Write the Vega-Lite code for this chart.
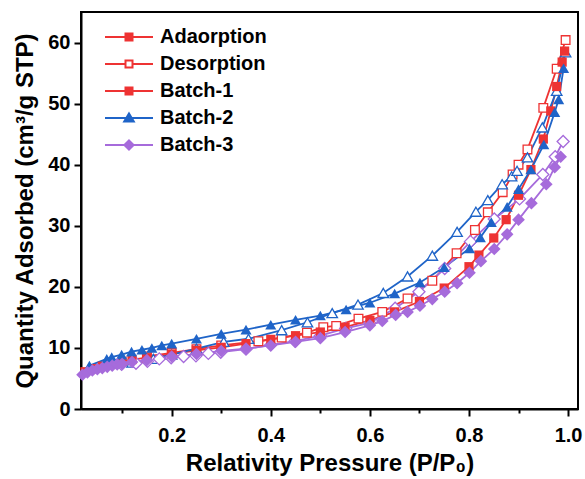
{
  "$schema": "https://vega.github.io/schema/vega-lite/v6.json",
  "width": 497,
  "height": 397,
  "autosize": {"type": "none"},
  "padding": {"left": 81, "top": 12, "right": 7, "bottom": 70},
  "background": "white",
  "data": {"values": [
    {"b":"Batch-1","s":"ads","p":0.025,"q":6.1},{"b":"Batch-1","s":"ads","p":0.04,"q":6.6},{"b":"Batch-1","s":"ads","p":0.06,"q":7.0},{"b":"Batch-1","s":"ads","p":0.08,"q":7.4},{"b":"Batch-1","s":"ads","p":0.1,"q":7.8},{"b":"Batch-1","s":"ads","p":0.12,"q":8.1},{"b":"Batch-1","s":"ads","p":0.15,"q":8.4},{"b":"Batch-1","s":"ads","p":0.2,"q":9.0},{"b":"Batch-1","s":"ads","p":0.25,"q":9.6},{"b":"Batch-1","s":"ads","p":0.3,"q":10.1},{"b":"Batch-1","s":"ads","p":0.35,"q":10.7},{"b":"Batch-1","s":"ads","p":0.4,"q":11.4},{"b":"Batch-1","s":"ads","p":0.45,"q":12.0},{"b":"Batch-1","s":"ads","p":0.5,"q":12.6},{"b":"Batch-1","s":"ads","p":0.55,"q":13.4},{"b":"Batch-1","s":"ads","p":0.6,"q":14.5},{"b":"Batch-1","s":"ads","p":0.65,"q":15.9},{"b":"Batch-1","s":"ads","p":0.7,"q":17.6},{"b":"Batch-1","s":"ads","p":0.75,"q":19.8},{"b":"Batch-1","s":"ads","p":0.8,"q":23.3},{"b":"Batch-1","s":"ads","p":0.82,"q":25.2},{"b":"Batch-1","s":"ads","p":0.85,"q":28.0},{"b":"Batch-1","s":"ads","p":0.875,"q":31.0},{"b":"Batch-1","s":"ads","p":0.9,"q":35.0},{"b":"Batch-1","s":"ads","p":0.925,"q":39.2},{"b":"Batch-1","s":"ads","p":0.95,"q":44.2},{"b":"Batch-1","s":"ads","p":0.965,"q":48.8},{"b":"Batch-1","s":"ads","p":0.977,"q":52.8},{"b":"Batch-1","s":"ads","p":0.988,"q":56.8},{"b":"Batch-1","s":"ads","p":0.993,"q":58.6},
    {"b":"Batch-1","s":"des","p":0.15,"q":8.6},{"b":"Batch-1","s":"des","p":0.2,"q":9.2},{"b":"Batch-1","s":"des","p":0.25,"q":9.8},{"b":"Batch-1","s":"des","p":0.3,"q":10.4},{"b":"Batch-1","s":"des","p":0.375,"q":11.1},{"b":"Batch-1","s":"des","p":0.422,"q":11.7},{"b":"Batch-1","s":"des","p":0.473,"q":12.5},{"b":"Batch-1","s":"des","p":0.506,"q":13.4},{"b":"Batch-1","s":"des","p":0.532,"q":13.6},{"b":"Batch-1","s":"des","p":0.577,"q":14.8},{"b":"Batch-1","s":"des","p":0.625,"q":15.9},{"b":"Batch-1","s":"des","p":0.676,"q":18.1},{"b":"Batch-1","s":"des","p":0.726,"q":21.0},{"b":"Batch-1","s":"des","p":0.775,"q":25.5},{"b":"Batch-1","s":"des","p":0.812,"q":29.3},{"b":"Batch-1","s":"des","p":0.838,"q":32.2},{"b":"Batch-1","s":"des","p":0.868,"q":35.5},{"b":"Batch-1","s":"des","p":0.888,"q":38.4},{"b":"Batch-1","s":"des","p":0.9,"q":40.0},{"b":"Batch-1","s":"des","p":0.918,"q":42.5},{"b":"Batch-1","s":"des","p":0.95,"q":49.3},{"b":"Batch-1","s":"des","p":0.977,"q":55.7},{"b":"Batch-1","s":"des","p":0.995,"q":60.4},
    {"b":"Batch-2","s":"ads","p":0.034,"q":7.1},{"b":"Batch-2","s":"ads","p":0.069,"q":8.2},{"b":"Batch-2","s":"ads","p":0.079,"q":8.5},{"b":"Batch-2","s":"ads","p":0.099,"q":8.9},{"b":"Batch-2","s":"ads","p":0.119,"q":9.4},{"b":"Batch-2","s":"ads","p":0.14,"q":9.7},{"b":"Batch-2","s":"ads","p":0.16,"q":10.0},{"b":"Batch-2","s":"ads","p":0.18,"q":10.4},{"b":"Batch-2","s":"ads","p":0.2,"q":10.7},{"b":"Batch-2","s":"ads","p":0.25,"q":11.5},{"b":"Batch-2","s":"ads","p":0.3,"q":12.3},{"b":"Batch-2","s":"ads","p":0.35,"q":13.0},{"b":"Batch-2","s":"ads","p":0.4,"q":13.8},{"b":"Batch-2","s":"ads","p":0.45,"q":14.6},{"b":"Batch-2","s":"ads","p":0.5,"q":15.3},{"b":"Batch-2","s":"ads","p":0.552,"q":16.3},{"b":"Batch-2","s":"ads","p":0.6,"q":17.4},{"b":"Batch-2","s":"ads","p":0.65,"q":18.9},{"b":"Batch-2","s":"ads","p":0.701,"q":20.7},{"b":"Batch-2","s":"ads","p":0.75,"q":23.2},{"b":"Batch-2","s":"ads","p":0.801,"q":26.3},{"b":"Batch-2","s":"ads","p":0.823,"q":28.1},{"b":"Batch-2","s":"ads","p":0.845,"q":30.6},{"b":"Batch-2","s":"ads","p":0.877,"q":33.1},{"b":"Batch-2","s":"ads","p":0.9,"q":36.0},{"b":"Batch-2","s":"ads","p":0.925,"q":39.2},{"b":"Batch-2","s":"ads","p":0.951,"q":43.3},{"b":"Batch-2","s":"ads","p":0.973,"q":48.6},{"b":"Batch-2","s":"ads","p":0.981,"q":50.7},{"b":"Batch-2","s":"ads","p":0.991,"q":55.8},
    {"b":"Batch-2","s":"des","p":0.12,"q":7.6},{"b":"Batch-2","s":"des","p":0.163,"q":8.2},{"b":"Batch-2","s":"des","p":0.2,"q":8.9},{"b":"Batch-2","s":"des","p":0.25,"q":9.9},{"b":"Batch-2","s":"des","p":0.305,"q":11.0},{"b":"Batch-2","s":"des","p":0.355,"q":11.5},{"b":"Batch-2","s":"des","p":0.422,"q":12.9},{"b":"Batch-2","s":"des","p":0.474,"q":14.2},{"b":"Batch-2","s":"des","p":0.524,"q":15.7},{"b":"Batch-2","s":"des","p":0.576,"q":17.1},{"b":"Batch-2","s":"des","p":0.627,"q":19.0},{"b":"Batch-2","s":"des","p":0.676,"q":21.7},{"b":"Batch-2","s":"des","p":0.726,"q":25.1},{"b":"Batch-2","s":"des","p":0.776,"q":29.0},{"b":"Batch-2","s":"des","p":0.814,"q":32.3},{"b":"Batch-2","s":"des","p":0.838,"q":34.2},{"b":"Batch-2","s":"des","p":0.867,"q":36.8},{"b":"Batch-2","s":"des","p":0.886,"q":38.1},{"b":"Batch-2","s":"des","p":0.897,"q":39.0},{"b":"Batch-2","s":"des","p":0.918,"q":41.2},{"b":"Batch-2","s":"des","p":0.948,"q":46.1},{"b":"Batch-2","s":"des","p":0.977,"q":52.1},{"b":"Batch-2","s":"des","p":0.995,"q":58.4},
    {"b":"Batch-3","s":"ads","p":0.02,"q":5.6},{"b":"Batch-3","s":"ads","p":0.03,"q":6.0},{"b":"Batch-3","s":"ads","p":0.04,"q":6.3},{"b":"Batch-3","s":"ads","p":0.05,"q":6.5},{"b":"Batch-3","s":"ads","p":0.06,"q":6.7},{"b":"Batch-3","s":"ads","p":0.07,"q":6.9},{"b":"Batch-3","s":"ads","p":0.08,"q":7.1},{"b":"Batch-3","s":"ads","p":0.09,"q":7.3},{"b":"Batch-3","s":"ads","p":0.1,"q":7.4},{"b":"Batch-3","s":"ads","p":0.12,"q":7.7},{"b":"Batch-3","s":"ads","p":0.15,"q":8.0},{"b":"Batch-3","s":"ads","p":0.2,"q":8.6},{"b":"Batch-3","s":"ads","p":0.25,"q":9.0},{"b":"Batch-3","s":"ads","p":0.3,"q":9.5},{"b":"Batch-3","s":"ads","p":0.35,"q":9.9},{"b":"Batch-3","s":"ads","p":0.4,"q":10.4},{"b":"Batch-3","s":"ads","p":0.45,"q":11.0},{"b":"Batch-3","s":"ads","p":0.5,"q":11.6},{"b":"Batch-3","s":"ads","p":0.55,"q":12.6},{"b":"Batch-3","s":"ads","p":0.6,"q":13.7},{"b":"Batch-3","s":"ads","p":0.625,"q":14.4},{"b":"Batch-3","s":"ads","p":0.652,"q":15.4},{"b":"Batch-3","s":"ads","p":0.676,"q":15.9},{"b":"Batch-3","s":"ads","p":0.701,"q":16.9},{"b":"Batch-3","s":"ads","p":0.726,"q":18.0},{"b":"Batch-3","s":"ads","p":0.751,"q":19.2},{"b":"Batch-3","s":"ads","p":0.776,"q":20.6},{"b":"Batch-3","s":"ads","p":0.801,"q":22.3},{"b":"Batch-3","s":"ads","p":0.824,"q":24.2},{"b":"Batch-3","s":"ads","p":0.851,"q":26.2},{"b":"Batch-3","s":"ads","p":0.877,"q":28.6},{"b":"Batch-3","s":"ads","p":0.9,"q":31.0},{"b":"Batch-3","s":"ads","p":0.926,"q":33.7},{"b":"Batch-3","s":"ads","p":0.956,"q":36.8},{"b":"Batch-3","s":"ads","p":0.973,"q":39.6},{"b":"Batch-3","s":"ads","p":0.985,"q":41.3},
    {"b":"Batch-3","s":"des","p":0.099,"q":7.3},{"b":"Batch-3","s":"des","p":0.128,"q":7.5},{"b":"Batch-3","s":"des","p":0.151,"q":7.8},{"b":"Batch-3","s":"des","p":0.175,"q":8.2},{"b":"Batch-3","s":"des","p":0.199,"q":8.4},{"b":"Batch-3","s":"des","p":0.224,"q":8.6},{"b":"Batch-3","s":"des","p":0.249,"q":8.7},{"b":"Batch-3","s":"des","p":0.274,"q":9.1},{"b":"Batch-3","s":"des","p":0.299,"q":9.3},{"b":"Batch-3","s":"des","p":0.35,"q":9.8},{"b":"Batch-3","s":"des","p":0.4,"q":10.5},{"b":"Batch-3","s":"des","p":0.449,"q":11.1},{"b":"Batch-3","s":"des","p":0.5,"q":12.0},{"b":"Batch-3","s":"des","p":0.551,"q":13.2},{"b":"Batch-3","s":"des","p":0.6,"q":14.1},{"b":"Batch-3","s":"des","p":0.651,"q":16.5},{"b":"Batch-3","s":"des","p":0.699,"q":19.2},{"b":"Batch-3","s":"des","p":0.751,"q":23.0},{"b":"Batch-3","s":"des","p":0.803,"q":27.4},{"b":"Batch-3","s":"des","p":0.851,"q":31.1},{"b":"Batch-3","s":"des","p":0.902,"q":34.4},{"b":"Batch-3","s":"des","p":0.949,"q":38.4},{"b":"Batch-3","s":"des","p":0.974,"q":41.3},{"b":"Batch-3","s":"des","p":0.99,"q":43.8}
  ]},
  "layer": [
    {
      "mark": {"type": "line", "strokeWidth": 1.8, "clip": true},
      "encoding": {
        "x": {"field": "p", "type": "quantitative",
          "scale": {"domain": [0.017, 1.02], "zero": false, "nice": false},
          "axis": {"title": "Relativity Pressure (P/P₀)", "values": [0.1,0.2,0.3,0.4,0.5,0.6,0.7,0.8,0.9,1.0], "format": ".1f",
            "labelExpr": "round(datum.value*10) % 2 == 0 ? datum.label : ''",
            "tickSize": {"condition": {"test": "round(datum.value*10) % 2 == 0", "value": 7}, "value": 4},
            "labelPadding": 9, "titlePadding": 6, "labelFlush": false}},
        "y": {"field": "q", "type": "quantitative",
          "scale": {"domain": [0, 65], "nice": false},
          "axis": {"title": "Quantity Adsorbed (cm³/g STP)", "values": [0,5,10,15,20,25,30,35,40,45,50,55,60], "format": "d",
            "labelExpr": "datum.value % 10 == 0 ? datum.label : ''",
            "tickSize": {"condition": {"test": "datum.value % 10 == 0", "value": 7}, "value": 4},
            "labelPadding": 4, "titlePadding": 10}},
        "color": {"field": "b", "type": "nominal", "scale": {"domain": ["Batch-1","Batch-2","Batch-3"], "range": ["#EE3333","#1F64C8","#A66BDB"]}, "legend": null},
        "detail": {"field": "s"}
      }
    },
    {
      "transform": [{"filter": "datum.s == 'des'"}],
      "mark": {"type": "point", "filled": true, "fill": "white", "strokeWidth": 1.3, "opacity": 1},
      "encoding": {
        "x": {"field": "p", "type": "quantitative"},
        "y": {"field": "q", "type": "quantitative"},
        "stroke": {"field": "b", "type": "nominal", "scale": {"domain": ["Batch-1","Batch-2","Batch-3"], "range": ["#EE3333","#1F64C8","#A66BDB"]}, "legend": null},
        "shape": {"field": "b", "type": "nominal", "scale": {"domain": ["Batch-1","Batch-2","Batch-3"], "range": ["square","triangle-up","diamond"]}, "legend": null},
        "size": {"field": "b", "type": "nominal", "scale": {"domain": ["Batch-1","Batch-2","Batch-3"], "range": [75, 145, 125]}, "legend": null}
      }
    },
    {
      "transform": [{"filter": "datum.s == 'ads'"}],
      "mark": {"type": "point", "filled": true, "opacity": 1, "strokeWidth": 0},
      "encoding": {
        "x": {"field": "p", "type": "quantitative"},
        "y": {"field": "q", "type": "quantitative"},
        "fill": {"field": "b", "type": "nominal", "scale": {"domain": ["Batch-1","Batch-2","Batch-3"], "range": ["#EE3333","#1F64C8","#A66BDB"]}, "legend": null},
        "shape": {"field": "b", "type": "nominal", "scale": {"domain": ["Batch-1","Batch-2","Batch-3"], "range": ["square","triangle-up","diamond"]}, "legend": null},
        "size": {"field": "b", "type": "nominal", "scale": {"domain": ["Batch-1","Batch-2","Batch-3"], "range": [85, 160, 135]}, "legend": null}
      }
    },
    {
      "transform": [{"filter": "false"}],
      "mark": {"type": "point", "filled": true, "opacity": 1},
      "encoding": {
        "fill": {"field": "key", "type": "nominal",
          "scale": {"domain": ["Adaorption","Desorption","Batch-1","Batch-2","Batch-3"], "range": ["#EE3333","#ffffff","#EE3333","#1F64C8","#A66BDB"]},
          "legend": {"title": null, "orient": "none", "legendX": 0, "legendY": 15, "padding": 0, "symbolSize": 64, "symbolStrokeWidth": 2, "symbolOpacity": 1, "symbolOffset": 38, "labelOffset": 21, "rowPadding": 7, "labelFont": "Liberation Sans", "labelFontWeight": "bold", "labelFontSize": 20, "labelColor": "black"}},
        "stroke": {"field": "key", "type": "nominal",
          "scale": {"domain": ["Adaorption","Desorption","Batch-1","Batch-2","Batch-3"], "range": ["#EE3333","#EE3333","#EE3333","#1F64C8","#A66BDB"]},
          "legend": {"title": null, "orient": "none", "legendX": 0, "legendY": 15, "padding": 0, "symbolSize": 64, "symbolStrokeWidth": 2, "symbolOpacity": 1, "symbolOffset": 38, "labelOffset": 21, "rowPadding": 7, "labelFont": "Liberation Sans", "labelFontWeight": "bold", "labelFontSize": 20, "labelColor": "black"}},
        "shape": {"field": "key", "type": "nominal",
          "scale": {"domain": ["Adaorption","Desorption","Batch-1","Batch-2","Batch-3"], "range": [
            "M-6,0H6M-0.875,-0.875H0.875V0.875H-0.875Z",
            "M-6,0H-0.875M0.875,0H6M-0.875,-0.875H0.875V0.875H-0.875Z",
            "M-6,0H6M-0.875,-0.875H0.875V0.875H-0.875Z",
            "M-6,0H6M0,-1.15L1.2,0.9H-1.2Z",
            "M-6,0H6M0,-1.15L1.15,0L0,1.15L-1.15,0Z"]},
          "legend": {"title": null, "orient": "none", "legendX": 0, "legendY": 15, "padding": 0, "symbolSize": 64, "symbolStrokeWidth": 2, "symbolOpacity": 1, "symbolOffset": 38, "labelOffset": 21, "rowPadding": 7, "labelFont": "Liberation Sans", "labelFontWeight": "bold", "labelFontSize": 20, "labelColor": "black"}}
      }
    }
  ],
  "resolve": {"scale": {"fill": "independent", "stroke": "independent", "shape": "independent", "size": "independent", "color": "independent"}},
  "config": {
    "view": {"stroke": "black", "strokeWidth": 2},
    "axis": {"grid": false, "domainColor": "black", "domainWidth": 2, "tickColor": "black", "tickWidth": 2,
      "labelFont": "Liberation Sans", "labelFontWeight": "bold", "labelFontSize": 20, "labelColor": "black",
      "titleFont": "Liberation Sans", "titleFontWeight": "bold", "titleFontSize": 24, "titleColor": "black"}
  }
}
